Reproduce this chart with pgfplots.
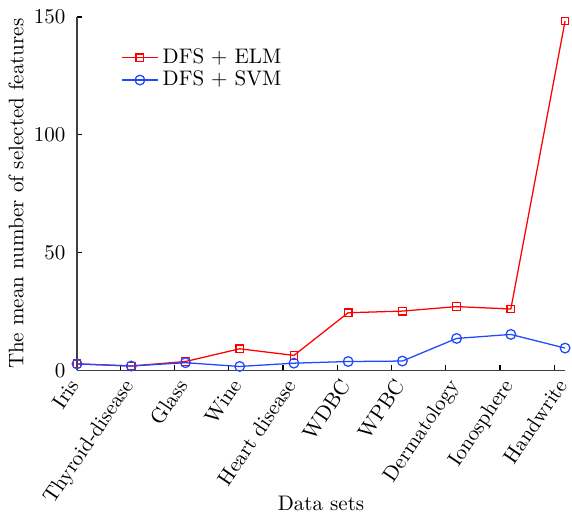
\documentclass[border=0pt]{standalone}
\usepackage{pgfplots}
\pgfplotsset{compat=1.18}
\definecolor{elm}{rgb}{1,0,0}
\definecolor{svm}{rgb}{0.12,0.28,1}
\begin{document}
\begin{tikzpicture}
\begin{axis}[
  name=ax,
  scale only axis,
  width=232pt, height=168pt,
  xmin=0, xmax=9, ymin=0, ymax=150,
  axis x line=bottom, axis y line=left,
  axis line style={-, line width=0.7pt, black!75},
  major tick length=0pt,
  minor tick length=2.5pt,
  tick align=inside,
  tick style={black, line width=0.6pt},
  xtick={0,1,2,3,4,5,6,7,8,9},
  xticklabels={Iris,Thyroid-disease,Glass,Wine,Heart disease,WDBC,WPBC,Dermatology,Ionosphere,Handwrite},
  minor xtick={0.8,1.8,2.8,3.8,4.8,5.8,6.8,7.8,8.8},
  x tick label style={xshift=-4.5pt, yshift=-3pt, rotate=56, anchor=north east, inner sep=0pt},
  ytick={0,50,100,150},
  minor ytick={0,50,100,150},
  y tick label style={xshift=-2pt},
  xlabel={Data sets},
  xlabel style={at={(axis description cs:0.5,0)}, anchor=center, yshift=-63pt},
  ylabel={The mean number of selected features},
  ylabel style={yshift=-2pt},
  legend style={at={(0.077,0.935)}, anchor=north west, draw=none, fill=none, row sep=-2pt},
  legend cell align=left,
  clip=false,
]
\addplot[color=elm, line width=0.6pt, mark=square, mark size=1.8pt, mark options={solid, draw=elm, fill=none}] coordinates {
(0,2.8) (1,1.9) (2,3.8) (3,9.2) (4,6.4) (5,24.5) (6,25.2) (7,27.1) (8,26.1) (9,148.3)};
\addlegendentry{DFS + ELM}
\addplot[color=svm, line width=0.6pt, mark=o, mark size=2.3pt, mark options={solid, draw=svm, fill=none}] coordinates {
(0,2.8) (1,1.9) (2,3.3) (3,1.7) (4,3.1) (5,3.8) (6,4.0) (7,13.6) (8,15.3) (9,9.5)};
\addlegendentry{DFS + SVM}
\end{axis}
\pgfresetboundingbox
\path ([shift={(-36.6pt,-69pt)}]ax.south west) rectangle ([shift={(3.3pt,8.1pt)}]ax.north east);
\end{tikzpicture}
\end{document}
